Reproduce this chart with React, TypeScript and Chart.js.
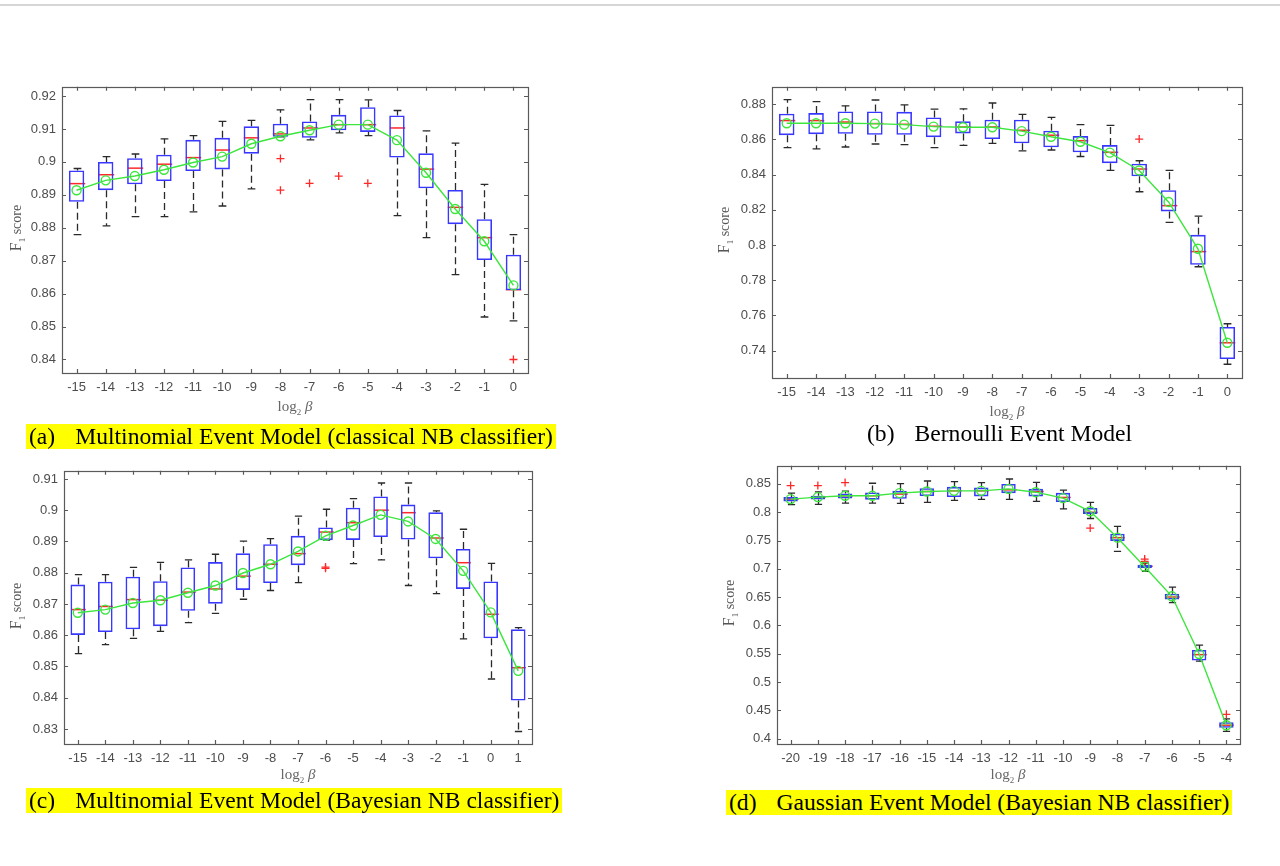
import React, { useEffect, useRef } from 'react';
import { Chart, registerables } from 'chart.js';

Chart.register(...registerables);

// ---------------- Panel (a) ----------------
const labelsA = ['-15', '-14', '-13', '-12', '-11', '-10', '-9', '-8', '-7', '-6', '-5', '-4', '-3', '-2', '-1', '0'];
const q3A = [0.8974, 0.9000, 0.9011, 0.9022, 0.9067, 0.9073, 0.9108, 0.9116, 0.9123, 0.9143, 0.9166, 0.9141, 0.9026, 0.8915, 0.8826, 0.8718];
const q1A = [0.8879, 0.8914, 0.8932, 0.8942, 0.8972, 0.8977, 0.9025, 0.9076, 0.9073, 0.9096, 0.9091, 0.9013, 0.8920, 0.8811, 0.8702, 0.8610];
const medA = [0.8934, 0.8961, 0.8981, 0.8993, 0.9013, 0.9036, 0.9073, 0.9085, 0.9103, 0.9113, 0.9113, 0.9103, 0.8978, 0.8862, 0.8770, 0.8612];
const meanA = [0.8914, 0.8944, 0.8957, 0.8976, 0.8998, 0.9016, 0.9055, 0.9078, 0.9096, 0.9113, 0.9113, 0.9066, 0.8967, 0.8857, 0.8759, 0.8625];
const hiA = [0.8980, 0.9016, 0.9024, 0.9070, 0.9080, 0.9123, 0.9126, 0.9158, 0.9189, 0.9189, 0.9188, 0.9156, 0.9094, 0.9057, 0.8932, 0.8779];
const loA = [0.8779, 0.8806, 0.8834, 0.8834, 0.8848, 0.8866, 0.8918, 0.9076, 0.9067, 0.9088, 0.9080, 0.8837, 0.8770, 0.8658, 0.8529, 0.8517];
const outXA = ['-8', '-8', '-7', '-6', '-5', '0'];
const outYA = [0.9010, 0.8914, 0.8935, 0.8957, 0.8935, 0.8400];

// ---------------- Panel (b) ----------------
const labelsB = ['-15', '-14', '-13', '-12', '-11', '-10', '-9', '-8', '-7', '-6', '-5', '-4', '-3', '-2', '-1', '0'];
const q3B = [0.8746, 0.8750, 0.8759, 0.8759, 0.8757, 0.8725, 0.8703, 0.8712, 0.8712, 0.8650, 0.8619, 0.8568, 0.8462, 0.8312, 0.8058, 0.7535];
const q1B = [0.8624, 0.8630, 0.8632, 0.8626, 0.8626, 0.8613, 0.8634, 0.8602, 0.8578, 0.8555, 0.8527, 0.8465, 0.8391, 0.8191, 0.7888, 0.7353];
const medB = [0.8707, 0.8707, 0.8699, 0.8690, 0.8686, 0.8675, 0.8671, 0.8671, 0.8652, 0.8624, 0.8593, 0.8527, 0.8432, 0.8224, 0.7963, 0.7445];
const meanB = [0.8692, 0.8692, 0.8692, 0.8690, 0.8684, 0.8673, 0.8669, 0.8669, 0.8647, 0.8615, 0.8587, 0.8525, 0.8424, 0.8245, 0.7979, 0.7445];
const hiB = [0.8826, 0.8815, 0.8791, 0.8824, 0.8796, 0.8772, 0.8774, 0.8807, 0.8742, 0.8725, 0.8684, 0.8680, 0.8479, 0.8424, 0.8164, 0.7553];
const loB = [0.8553, 0.8546, 0.8557, 0.8574, 0.8570, 0.8553, 0.8566, 0.8578, 0.8535, 0.8540, 0.8503, 0.8424, 0.8303, 0.8129, 0.7877, 0.7323];
const outXB = ['-3'];
const outYB = [0.8602];

// ---------------- Panel (c) ----------------
const labelsC = ['-15', '-14', '-13', '-12', '-11', '-10', '-9', '-8', '-7', '-6', '-5', '-4', '-3', '-2', '-1', '0', '1'];
const q3C = [0.8762, 0.8771, 0.8787, 0.8773, 0.8817, 0.8834, 0.8862, 0.8891, 0.8918, 0.8945, 0.9008, 0.9044, 0.9018, 0.8993, 0.8876, 0.8772, 0.8619];
const q1C = [0.8601, 0.8610, 0.8619, 0.8629, 0.8678, 0.8701, 0.8745, 0.8767, 0.8824, 0.8904, 0.8905, 0.8914, 0.8906, 0.8846, 0.8748, 0.8590, 0.8391];
const medC = [0.8682, 0.8692, 0.8714, 0.8712, 0.8738, 0.8748, 0.8789, 0.8827, 0.8861, 0.8930, 0.8960, 0.9000, 0.8992, 0.8911, 0.8832, 0.8667, 0.8496];
const meanC = [0.8672, 0.8682, 0.8703, 0.8712, 0.8736, 0.8759, 0.8799, 0.8827, 0.8868, 0.8918, 0.8951, 0.8985, 0.8964, 0.8908, 0.8806, 0.8673, 0.8486];
const hiC = [0.8794, 0.8794, 0.8817, 0.8833, 0.8841, 0.8859, 0.8901, 0.8909, 0.8981, 0.9003, 0.9037, 0.9087, 0.9087, 0.8998, 0.8939, 0.8830, 0.8624];
const loC = [0.8541, 0.8570, 0.8590, 0.8612, 0.8640, 0.8670, 0.8715, 0.8743, 0.8768, 0.8904, 0.8829, 0.8841, 0.8759, 0.8733, 0.8588, 0.8460, 0.8292];
const outXC = ['-6', '-6'];
const outYC = [0.8818, 0.8814];

// ---------------- Panel (d) ----------------
const labelsD = ['-20', '-19', '-18', '-17', '-16', '-15', '-14', '-13', '-12', '-11', '-10', '-9', '-8', '-7', '-6', '-5', '-4'];
const q3D = [0.8267, 0.8290, 0.8331, 0.8349, 0.8378, 0.8424, 0.8448, 0.8436, 0.8500, 0.8413, 0.8343, 0.8075, 0.7621, 0.7074, 0.6562, 0.5567, 0.4292];
const q1D = [0.8191, 0.8226, 0.8244, 0.8221, 0.8238, 0.8285, 0.8267, 0.8279, 0.8337, 0.8279, 0.8180, 0.7970, 0.7493, 0.7016, 0.6457, 0.5380, 0.4193];
const medD = [0.8232, 0.8267, 0.8290, 0.8290, 0.8320, 0.8366, 0.8378, 0.8378, 0.8395, 0.8366, 0.8261, 0.7999, 0.7551, 0.7045, 0.6503, 0.5485, 0.4239];
const meanD = [0.8232, 0.8267, 0.8290, 0.8290, 0.8337, 0.8366, 0.8378, 0.8378, 0.8413, 0.8354, 0.8250, 0.8017, 0.7551, 0.7039, 0.6515, 0.5497, 0.4239];
const hiD = [0.8337, 0.8360, 0.8372, 0.8512, 0.8506, 0.8552, 0.8541, 0.8523, 0.8587, 0.8529, 0.8389, 0.8174, 0.7749, 0.7103, 0.6678, 0.5654, 0.4350];
const loD = [0.8133, 0.8139, 0.8162, 0.8162, 0.8157, 0.8174, 0.8209, 0.8226, 0.8226, 0.8191, 0.8058, 0.7889, 0.7307, 0.6958, 0.6405, 0.5369, 0.4129];
const outXD = ['-20', '-19', '-18', '-9', '-7', '-7', '-4'];
const outYD = [0.8471, 0.8471, 0.8523, 0.7720, 0.7173, 0.7132, 0.4431];

// captions
const captionA = 'Multinomial Event Model (classical NB classifier)';
const captionB = 'Bernoulli Event Model';
const captionC = 'Multinomial Event Model (Bayesian NB classifier)';
const captionD = 'Gaussian Event Model (Bayesian NB classifier)';

const BLUE = 'rgb(55,55,255)';
const RED = 'rgb(255,40,40)';
const GREEN = 'rgb(60,230,60)';
const WHISK = '#2a2a2a';
const FRAME = '#5a5a5a';
const TICKTXT = '#4d4d4d';

const PADL = 50;
const PADT = 10;
const PADR = 10;
const PADB = 30;
const BOXFRAC = 0.53;

type Panel = {
  labels: string[];
  q1: number[];
  q3: number[];
  med: number[];
  mean: number[];
  lo: number[];
  hi: number[];
  outX: string[];
  outY: number[];
  yMin: number;
  yMax: number;
  yStep: number;
  rect: [number, number, number, number];
};

const panels: Panel[] = [
  { labels: labelsA, q1: q1A, q3: q3A, med: medA, mean: meanA, lo: loA, hi: hiA, outX: outXA, outY: outYA, yMin: 0.8359, yMax: 0.9228, yStep: 0.01, rect: [62, 83, 528, 373] },
  { labels: labelsB, q1: q1B, q3: q3B, med: medB, mean: meanB, lo: loB, hi: hiB, outX: outXB, outY: outYB, yMin: 0.7245, yMax: 0.8899, yStep: 0.02, rect: [772, 83, 1242, 378] },
  { labels: labelsC, q1: q1C, q3: q3C, med: medC, mean: meanC, lo: loC, hi: hiC, outX: outXC, outY: outYC, yMin: 0.8252, yMax: 0.9126, yStep: 0.01, rect: [64, 467, 532, 744] },
  { labels: labelsD, q1: q1D, q3: q3D, med: medD, mean: meanD, lo: loD, hi: hiD, outX: outXD, outY: outYD, yMin: 0.3907, yMax: 0.882, yStep: 0.05, rect: [777, 462, 1240, 744] },
];

function makeBoxPlugin(p: Panel) {
  return {
    id: 'boxWhiskers',
    beforeDatasetsDraw(chart: any) {
      const { ctx, scales } = chart;
      const x = scales.x;
      const y = scales.y;
      const catW = x.width / p.labels.length;
      const bw = catW * BOXFRAC;
      ctx.save();
      for (let i = 0; i < p.labels.length; i++) {
        const px = Math.round(x.getPixelForValue(i)) + 0.5;
        const yHi = y.getPixelForValue(p.hi[i]);
        const yLo = y.getPixelForValue(p.lo[i]);
        const yQ3 = y.getPixelForValue(p.q3[i]);
        const yQ1 = y.getPixelForValue(p.q1[i]);
        // dashed whiskers
        ctx.strokeStyle = WHISK;
        ctx.lineWidth = 1.3;
        ctx.setLineDash([7, 4]);
        ctx.beginPath();
        ctx.moveTo(px, yQ3);
        ctx.lineTo(px, yHi);
        ctx.moveTo(px, yQ1);
        ctx.lineTo(px, yLo);
        ctx.stroke();
        // caps
        ctx.setLineDash([]);
        ctx.beginPath();
        ctx.moveTo(px - bw / 4, yHi);
        ctx.lineTo(px + bw / 4, yHi);
        ctx.moveTo(px - bw / 4, yLo);
        ctx.lineTo(px + bw / 4, yLo);
        ctx.stroke();
        // median
        const yMed = y.getPixelForValue(p.med[i]);
        ctx.strokeStyle = RED;
        ctx.lineWidth = 1.5;
        ctx.beginPath();
        ctx.moveTo(px - bw / 2, yMed);
        ctx.lineTo(px + bw / 2, yMed);
        ctx.stroke();
      }
      ctx.restore();
    },
    afterDraw(chart: any) {
      const { ctx, chartArea, scales } = chart;
      const { left, top, right, bottom } = chartArea;
      const x = scales.x;
      const y = scales.y;
      ctx.save();
      ctx.strokeStyle = FRAME;
      ctx.lineWidth = 1.2;
      ctx.setLineDash([]);
      ctx.strokeRect(Math.round(left) + 0.5, Math.round(top) + 0.5, Math.round(right - left), Math.round(bottom - top));
      const tl = 4;
      ctx.beginPath();
      x.ticks.forEach((_t: any, i: number) => {
        const px = Math.round(x.getPixelForTick(i)) + 0.5;
        ctx.moveTo(px, bottom);
        ctx.lineTo(px, bottom - tl);
        ctx.moveTo(px, top);
        ctx.lineTo(px, top + tl);
      });
      y.ticks.forEach((t: any) => {
        const py = Math.round(y.getPixelForValue(t.value)) + 0.5;
        ctx.moveTo(left, py);
        ctx.lineTo(left + tl, py);
        ctx.moveTo(right, py);
        ctx.lineTo(right - tl, py);
      });
      ctx.stroke();
      ctx.restore();
    },
  };
}

function BoxChart({ p }: { p: Panel }) {
  const ref = useRef<HTMLCanvasElement>(null);
  const [L, T, R, B] = p.rect;
  const w = R - L + PADL + PADR;
  const h = B - T + PADT + PADB;
  useEffect(() => {
    if (!ref.current) return;
    const chart = new Chart(ref.current, {
      type: 'bar',
      data: {
        labels: p.labels,
        datasets: [
          {
            type: 'line',
            label: 'mean',
            data: p.mean,
            borderColor: GREEN,
            borderWidth: 1.4,
            pointRadius: 4.5,
            pointBorderColor: GREEN,
            pointBackgroundColor: 'rgba(0,0,0,0)',
            pointBorderWidth: 1.4,
            fill: false,
            tension: 0,
            order: 0,
          } as any,
          {
            type: 'line',
            label: 'outliers',
            data: p.outX.map((xv, i) => ({ x: xv, y: p.outY[i] })),
            showLine: false,
            pointStyle: 'cross',
            pointRadius: 4,
            pointBorderColor: RED,
            pointBorderWidth: 1.3,
            borderColor: RED,
            order: 1,
          } as any,
          {
            type: 'bar',
            label: 'box',
            data: p.q1.map((v, i) => [v, p.q3[i]]),
            backgroundColor: 'rgba(0,0,0,0)',
            borderColor: BLUE,
            borderWidth: 1.6,
            borderSkipped: false,
            barPercentage: BOXFRAC,
            categoryPercentage: 1,
            order: 2,
          } as any,
        ],
      },
      options: {
        responsive: false,
        maintainAspectRatio: false,
        animation: false,
        events: [],
        layout: { padding: { left: 0, top: PADT, right: PADR, bottom: 0 } },
        plugins: { legend: { display: false }, tooltip: { enabled: false }, title: { display: false } },
        scales: {
          x: {
            type: 'category',
            offset: true,
            grid: { display: false, drawTicks: false, offset: true },
            border: { display: false },
            ticks: {
              color: TICKTXT,
              font: { family: 'Liberation Sans', size: 13 },
              padding: 7,
              maxRotation: 0,
              autoSkip: false,
            },
            afterFit: (s: any) => {
              s.height = PADB;
            },
          },
          y: {
            type: 'linear',
            min: p.yMin,
            max: p.yMax,
            grid: { display: false, drawTicks: false },
            border: { display: false },
            ticks: {
              stepSize: p.yStep,
              includeBounds: false,
              color: TICKTXT,
              font: { family: 'Liberation Sans', size: 13 },
              padding: 6,
              callback: (v: any) => String(Math.round(Number(v) * 1000) / 1000),
            },
            afterFit: (s: any) => {
              s.width = PADL;
            },
          },
        },
      } as any,
      plugins: [makeBoxPlugin(p)],
    });
    return () => chart.destroy();
  }, []);
  return (
    <canvas
      ref={ref}
      width={w}
      height={h}
      style={{ position: 'absolute', left: L - PADL, top: T - PADT, width: w, height: h }}
    />
  );
}

function XTitle({ cx, cy }: { cx: number; cy: number }) {
  return (
    <div
      style={{
        position: 'absolute',
        left: cx - 50,
        top: cy - 9,
        width: 100,
        height: 18,
        lineHeight: '18px',
        textAlign: 'center',
        fontFamily: 'Liberation Serif',
        fontSize: 15,
        color: '#666',
        whiteSpace: 'nowrap',
      }}
    >
      log<span style={{ fontSize: 9, position: 'relative', top: 4 }}>2</span> <i>β</i>
    </div>
  );
}

function YTitle({ cx, cy }: { cx: number; cy: number }) {
  return (
    <div
      style={{
        position: 'absolute',
        left: cx - 50,
        top: cy - 10,
        width: 100,
        height: 20,
        lineHeight: '20px',
        textAlign: 'center',
        fontFamily: 'Liberation Serif',
        color: '#555',
        whiteSpace: 'nowrap',
        transform: 'rotate(-90deg)',
      }}
    >
      <span style={{ fontSize: 16 }}>F</span>
      <span style={{ fontSize: 9, position: 'relative', top: 4 }}>1</span>
      <span style={{ fontSize: 14 }}> score</span>
    </div>
  );
}

function Caption({ left, top, tag, text, yellow }: { left: number; top: number; tag: string; text: string; yellow: boolean }) {
  return (
    <div
      style={{
        position: 'absolute',
        left,
        top,
        height: 25,
        lineHeight: '25px',
        padding: '0 3px',
        background: yellow ? '#ffff00' : 'transparent',
        fontFamily: 'Liberation Serif',
        fontSize: 23.6,
        color: '#000',
        whiteSpace: 'nowrap',
      }}
    >
      {tag}
      <span style={{ display: 'inline-block', width: 20 }} />
      {text}
    </div>
  );
}

export default function App() {
  useEffect(() => {
    document.body.style.margin = '0';
    document.body.style.background = '#fff';
  }, []);
  return (
    <div style={{ position: 'relative', width: 1280, height: 866, background: '#fff', overflow: 'hidden' }}>
      <div style={{ position: 'absolute', left: 0, top: 4, width: 1280, height: 2, background: '#d6d6d6' }} />
      {panels.map((p, i) => (
        <BoxChart key={i} p={p} />
      ))}
      <YTitle cx={16} cy={228} />
      <YTitle cx={724} cy={230} />
      <YTitle cx={16} cy={606} />
      <YTitle cx={729} cy={603} />
      <XTitle cx={295} cy={406} />
      <XTitle cx={1007} cy={411} />
      <XTitle cx={298} cy={774} />
      <XTitle cx={1008} cy={774} />
      <Caption left={26} top={424} tag="(a)" text={captionA} yellow={true} />
      <Caption left={864} top={421} tag="(b)" text={captionB} yellow={false} />
      <Caption left={26} top={788} tag="(c)" text={captionC} yellow={true} />
      <Caption left={726} top={790} tag="(d)" text={captionD} yellow={true} />
    </div>
  );
}
